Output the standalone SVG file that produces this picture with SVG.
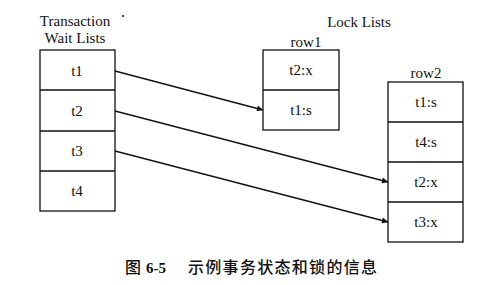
<svg xmlns="http://www.w3.org/2000/svg" width="478" height="285" viewBox="0 0 478 285">
<style>
.box{fill:#fff;stroke:#111;stroke-width:1.3}
.sep{stroke:#111;stroke-width:1.3}
.t{font-family:"Liberation Serif","Times New Roman",serif;font-size:15px;fill:#111;text-anchor:middle}
.conn{stroke:#111;stroke-width:1.3;fill:none;marker-end:url(#ah)}
.cap{font-family:"Liberation Serif","Noto Sans CJK SC",serif;font-size:16px;fill:#111;font-weight:500}
.capn{font-family:"Liberation Serif","Noto Sans CJK SC",serif;font-size:15px;fill:#111;font-weight:bold}
</style>
<defs>
<marker id="ah" viewBox="0 0 10 10" refX="10" refY="5" markerWidth="8" markerHeight="6" markerUnits="userSpaceOnUse" orient="auto">
<path d="M0,0 L10,5 L0,10 z" fill="#111"/>
</marker>
</defs>
<rect width="478" height="285" fill="#fff"/>
<circle cx="123" cy="16" r="1" fill="#111"/>
<g id="twl">
<text class="t" x="75" y="26">Transaction</text>
<text class="t" x="75" y="43">Wait Lists</text>
<rect class="box" x="40" y="50" width="75" height="161"/>
<line class="sep" x1="40" y1="90" x2="115" y2="90"/>
<line class="sep" x1="40" y1="131" x2="115" y2="131"/>
<line class="sep" x1="40" y1="171" x2="115" y2="171"/>
<text class="t" x="77" y="76">t1</text>
<text class="t" x="77" y="116">t2</text>
<text class="t" x="77" y="156">t3</text>
<text class="t" x="77" y="196">t4</text>
</g>
<g id="locklists">
<text class="t" x="359" y="27">Lock Lists</text>
</g>
<g id="row1">
<text class="t" x="306" y="47">row1</text>
<rect class="box" x="263" y="50" width="76" height="80"/>
<line class="sep" x1="263" y1="90" x2="339" y2="90"/>
<text class="t" x="301" y="75">t2:x</text>
<text class="t" x="301" y="115">t1:s</text>
</g>
<g id="row2">
<text class="t" x="426" y="78">row2</text>
<rect class="box" x="388" y="82" width="75" height="160"/>
<line class="sep" x1="388" y1="122" x2="463" y2="122"/>
<line class="sep" x1="388" y1="162" x2="463" y2="162"/>
<line class="sep" x1="388" y1="202" x2="463" y2="202"/>
<text class="t" x="426" y="107">t1:s</text>
<text class="t" x="426" y="147">t4:s</text>
<text class="t" x="426" y="187">t2:x</text>
<text class="t" x="426" y="227">t3:x</text>
</g>
<g id="connectors">
<line class="conn" x1="115" y1="71" x2="263" y2="110"/>
<line class="conn" x1="115" y1="111" x2="388" y2="182"/>
<line class="conn" x1="115" y1="151" x2="388" y2="222"/>
</g>
<g id="caption">
<text class="cap" x="125" y="273">图</text>
<text class="capn" x="146" y="273">6-5</text>
<text class="cap" x="188" y="273" textLength="189" lengthAdjust="spacing">示例事务状态和锁的信息</text>
</g>
</svg>
